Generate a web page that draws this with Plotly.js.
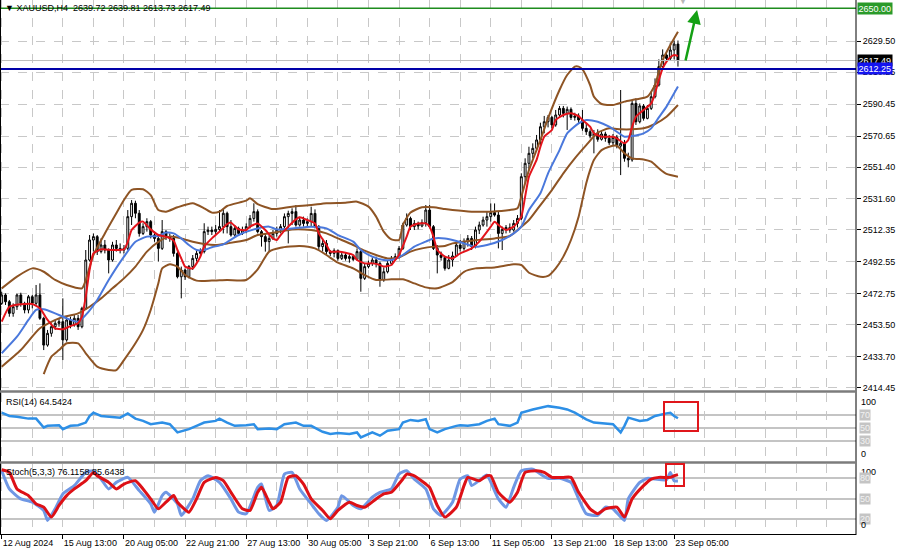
<!DOCTYPE html>
<html><head><meta charset="utf-8">
<script src="https://cdn.plot.ly/plotly-3.0.1.min.js"></script>
<style>html,body{margin:0;padding:0;background:#fff}#chart{width:900px;height:554px}</style>
</head><body><div id="chart"></div>
<script>
// ---------- DATA ----------
const headerText = "XAUUSD,H4  2639.72 2639.81 2613.73 2617.49";
const rsiLabel = "RSI(14) 64.5424";
const stochLabel = "Stoch(5,3,3) 76.1158 85.6438";
const xTickVals = [0,16,32,48,64,80,96,112,128,144,160,176];
const xTickText = ["12 Aug 2024","15 Aug 13:00","20 Aug 05:00","22 Aug 21:00","27 Aug 13:00","30 Aug 05:00","3 Sep 21:00","6 Sep 13:00","11 Sep 05:00","13 Sep 21:00","18 Sep 13:00","23 Sep 05:00"];
const priceTicks = [2414.45,2433.70,2453.50,2472.75,2492.55,2512.35,2531.60,2551.40,2570.65,2590.45,2610.25,2629.50];
const greenLevel = 2650.00;
const blueLevel = 2612.25;
const bidLevel = 2617.49;

const openP = [
2466.8,2472.0,2467.8,2460.6,2464.7,2472.0,2466.8,2462.7,2470.9,2466.8,
2472.0,2457.5,2440.9,2448.2,2452.3,2454.4,2455.4,2444.1,2456.5,2453.4,
2457.5,2452.3,2463.7,2493.7,2506.1,2508.2,2498.9,2503.0,2499.9,2493.7,
2503.0,2500.9,2499.9,2500.9,2520.6,2528.9,2522.7,2510.2,2514.4,2517.5,
2509.2,2507.1,2500.9,2511.3,2508.2,2507.1,2497.8,2483.3,2487.5,2483.3,
2489.6,2494.7,2497.8,2498.9,2511.3,2512.3,2511.3,2512.7,2514.4,2522.7,
2514.4,2509.2,2513.3,2510.2,2512.3,2514.4,2519.5,2523.7,2511.3,2508.2,
2505.1,2507.1,2510.2,2512.3,2514.4,2520.6,2522.6,2523.7,2515.4,2518.5,
2516.4,2517.5,2522.6,2514.4,2502.0,2504.0,2498.9,2497.8,2499.5,2494.7,
2496.8,2494.7,2495.8,2494.1,2498.9,2482.3,2489.6,2491.6,2493.7,2491.6,
2481.3,2486.4,2491.6,2494.7,2495.8,2500.9,2515.4,2519.5,2514.4,2516.4,
2514.8,2516.8,2524.7,2514.4,2500.9,2496.8,2495.3,2488.5,2493.7,2496.2,
2503.0,2500.9,2505.1,2507.1,2502.0,2512.3,2515.4,2518.5,2520.6,2523.1,
2521.6,2510.2,2512.7,2513.9,2512.3,2516.4,2519.5,2545.4,2553.7,2559.9,
2563.0,2568.2,2576.4,2579.5,2582.2,2577.5,2583.7,2587.8,2584.7,2587.2,
2582.2,2583.1,2580.6,2575.4,2573.3,2570.6,2572.3,2568.6,2571.9,2569.2,
2566.5,2569.8,2564.4,2566.1,2556.8,2555.8,2590.9,2579.5,2589.3,2581.6,
2587.8,2595.0,2602.3,2613.7,2620.9,2618.8,2624.0,2627.7];
const highP = [
2474.0,2473.0,2468.9,2466.8,2473.0,2473.4,2467.8,2472.0,2472.0,2478.2,
2479.2,2458.5,2450.3,2454.4,2456.5,2457.5,2469.9,2458.5,2458.5,2459.6,
2459.6,2464.7,2499.9,2509.2,2510.2,2509.2,2507.1,2506.1,2500.9,2505.0,
2506.1,2504.0,2503.0,2524.7,2530.9,2530.5,2524.7,2516.5,2519.6,2518.5,
2511.3,2509.2,2518.5,2512.3,2510.2,2509.2,2498.9,2489.6,2488.5,2490.6,
2496.8,2499.9,2500.9,2516.5,2514.4,2514.4,2515.4,2524.7,2525.8,2523.7,
2518.5,2515.4,2514.4,2514.4,2516.4,2521.6,2528.9,2525.1,2512.3,2510.2,
2509.2,2512.3,2514.4,2516.0,2522.6,2524.3,2525.8,2527.8,2520.6,2520.6,
2519.5,2526.8,2525.1,2515.4,2507.1,2506.1,2499.9,2500.9,2500.3,2498.9,
2498.2,2497.4,2496.6,2500.9,2499.9,2491.6,2493.3,2495.3,2495.8,2492.7,
2489.1,2493.7,2496.2,2497.8,2502.4,2516.8,2522.6,2520.6,2518.5,2517.5,
2518.9,2527.8,2527.8,2515.4,2503.0,2498.9,2496.2,2496.8,2498.9,2504.4,
2506.1,2507.1,2509.2,2508.6,2514.4,2517.5,2520.6,2523.7,2528.8,2528.8,
2523.7,2514.4,2515.4,2516.4,2518.5,2521.6,2547.5,2556.8,2564.0,2566.1,
2571.3,2578.9,2583.1,2583.7,2583.1,2586.8,2589.3,2589.3,2588.9,2588.4,
2585.1,2584.7,2586.8,2578.5,2574.8,2574.4,2574.8,2573.9,2573.3,2571.3,
2571.9,2571.3,2599.2,2568.2,2560.3,2593.0,2594.0,2590.9,2590.5,2589.9,
2598.2,2606.4,2618.2,2624.4,2623.0,2628.6,2629.8,2629.9];
const lowP = [
2465.8,2465.8,2458.5,2458.5,2462.7,2464.7,2460.6,2460.6,2463.7,2465.8,
2456.5,2437.8,2439.9,2446.1,2450.3,2452.3,2431.6,2443.0,2451.3,2452.3,
2450.3,2451.3,2462.7,2492.7,2498.9,2496.8,2497.8,2497.8,2485.4,2492.7,
2498.9,2497.8,2497.8,2499.9,2515.4,2519.6,2508.2,2509.2,2511.3,2507.1,
2505.0,2492.7,2499.9,2506.1,2505.0,2495.8,2482.3,2469.9,2481.3,2482.3,
2487.5,2492.7,2495.8,2497.8,2509.2,2509.2,2509.8,2511.3,2510.2,2510.2,
2508.2,2508.2,2508.6,2509.2,2510.2,2513.3,2517.5,2510.2,2502.0,2498.9,
2498.9,2506.1,2508.2,2510.2,2513.3,2504.0,2515.4,2514.4,2514.4,2514.4,
2514.4,2514.4,2513.3,2499.9,2498.9,2497.4,2496.2,2495.3,2493.3,2493.7,
2493.3,2492.0,2492.9,2493.3,2474.0,2481.3,2488.5,2490.0,2489.1,2477.1,
2480.2,2485.4,2490.6,2493.7,2494.7,2499.9,2514.4,2512.3,2512.3,2512.7,
2514.0,2514.4,2513.3,2499.9,2485.4,2493.3,2487.1,2487.9,2489.6,2495.8,
2498.9,2499.5,2502.0,2499.9,2500.9,2509.8,2514.4,2514.4,2517.5,2520.6,
2500.9,2499.9,2510.2,2510.6,2511.3,2513.9,2518.5,2541.3,2549.5,2556.8,
2560.9,2565.1,2572.3,2576.0,2575.4,2576.4,2582.2,2582.2,2574.4,2580.6,
2580.2,2578.5,2573.9,2571.3,2569.2,2559.9,2567.1,2567.8,2567.1,2565.1,
2565.1,2563.0,2546.4,2554.7,2551.2,2554.7,2577.5,2578.5,2580.2,2581.0,
2586.8,2594.0,2601.3,2612.6,2616.8,2617.4,2618.2,2613.73];
const closeP = [
2472.0,2467.8,2460.6,2464.7,2472.0,2466.8,2462.7,2470.9,2466.8,2472.0,
2457.5,2440.9,2448.2,2452.3,2454.4,2455.4,2444.1,2456.5,2453.4,2457.5,
2452.3,2463.7,2493.7,2506.1,2508.2,2498.9,2503.0,2499.9,2493.7,2503.0,
2500.9,2499.9,2500.9,2520.6,2528.9,2522.7,2510.2,2514.4,2517.5,2509.2,
2507.1,2500.9,2511.3,2508.2,2507.1,2497.8,2483.3,2487.5,2483.3,2489.6,
2494.7,2497.8,2498.9,2511.3,2512.3,2511.3,2512.7,2514.4,2522.7,2514.4,
2509.2,2513.3,2510.2,2512.3,2514.4,2519.5,2523.7,2511.3,2508.2,2505.1,
2507.1,2510.2,2512.3,2514.4,2520.6,2522.6,2523.7,2515.4,2518.5,2516.4,
2517.5,2522.6,2514.4,2502.0,2504.0,2498.9,2497.8,2499.5,2494.7,2496.8,
2494.7,2495.8,2494.1,2498.9,2482.3,2489.6,2491.6,2493.7,2491.6,2481.3,
2486.4,2491.6,2494.7,2495.8,2500.9,2515.4,2519.5,2514.4,2516.4,2514.8,
2516.8,2524.7,2514.4,2500.9,2496.8,2495.3,2488.5,2493.7,2496.2,2503.0,
2500.9,2505.1,2507.1,2502.0,2512.3,2515.4,2518.5,2520.6,2523.1,2521.6,
2510.2,2512.7,2513.9,2512.3,2516.4,2519.5,2545.4,2553.7,2559.9,2563.0,
2568.2,2576.4,2579.5,2582.2,2577.5,2583.7,2587.8,2584.7,2587.2,2582.2,
2583.1,2580.6,2575.4,2573.3,2570.6,2572.3,2568.6,2571.9,2569.2,2566.5,
2569.8,2564.4,2566.1,2556.8,2555.8,2590.9,2579.5,2589.3,2581.6,2587.8,
2595.0,2602.3,2613.7,2620.9,2618.8,2624.0,2627.7,2617.49];

// fast MA (red)
const maFastIdx = [0,2,5,8,10,12,14,16,18,20,21,22,23,24,26,29,32,33,34,36,37,39,41,43,45,46,47,48,50,51,52,53,55,57,59,
60,62,64,65,67,69,71,72,73,75,77,78,80,82,83,85,86,88,90,92,93,95,97,99,100,102,103,104,106,107,109,111,112,113,114,116,118,
120,123,125,128,129,130,132,134,136,137,138,140,141,142,144,145,147,149,151,152,154,155,157,158,160,161,163,164,165,166,168,170,171,172,173,174,175,176,177];
const maFast = [2455.4,2464.7,2466.2,2466.4,2463.7,2456.5,2451.3,2450.7,2452.7,2454.4,2458.5,2470.9,2487.5,2497.8,2500.3,2499.9,2500.3,2505.0,2512.3,2516.9,2517.5,2512.7,2509.2,2508.2,2505.7,2499.9,2494.7,2489.6,2488.5,2491.6,2495.8,2502.0,2507.1,2511.3,2516.0,
2516.9,2512.7,2512.3,2514.4,2516.4,2512.3,2507.1,2506.1,2509.2,2514.4,2518.9,2520.2,2518.5,2516.4,2510.2,2503.0,2498.9,2498.9,2498.2,2496.8,2493.7,2491.6,2491.6,2490.6,2489.6,2490.6,2493.7,2496.8,2508.2,2514.4,2516.4,2516.4,2514.4,2508.2,2499.9,2495.8,2494.7,
2497.8,2500.9,2505.1,2514.4,2517.5,2515.4,2512.3,2514.4,2520.6,2533.0,2545.4,2555.8,2564.0,2570.2,2574.4,2580.6,2583.7,2584.7,2583.0,2580.6,2576.4,2572.3,2570.2,2570.2,2570.2,2569.2,2566.1,2568.2,2576.4,2582.6,2586.8,2590.9,2597.1,2605.4,2612.6,2616.8,2619.5,2620.9,2620.3];

// slow MA (blue)
const maSlowIdx = [0,4,7,9,11,14,17,20,22,25,28,32,35,38,41,43,45,47,49,51,53,55,58,62,67,70,72,76,81,85,88,92,94,97,100,102,105,108,111,113,116,119,121,124,127,131,134,136,138,141,143,146,148,151,153,156,159,161,163,165,168,170,172,174,175,177];
const maSlow = [2435.8,2446.1,2456.5,2462.7,2463.1,2460.6,2457.5,2455.4,2459.6,2468.9,2481.3,2495.8,2505.0,2508.2,2508.6,2510.7,2510.2,2507.1,2503.0,2499.9,2499.9,2501.6,2503.4,2509.2,2513.3,2514.4,2512.7,2513.3,2514.4,2513.3,2509.2,2505.1,2499.9,2495.8,2493.7,2493.7,2496.8,2502.0,2505.1,2507.1,2507.1,2505.5,2504.0,2501.9,2503.0,2506.1,2510.2,2514.4,2524.7,2535.1,2547.5,2561.9,2572.3,2578.5,2580.6,2579.5,2576.4,2573.3,2570.2,2570.6,2572.3,2575.4,2582.2,2588.9,2593.0,2601.3];

// Bollinger bands (brown)
const bbMidIdx = [0,5,10,15,20,23,26,29,32,35,38,41,44,47,50,53,56,59,64,67,71,76,81,85,88,92,95,98,101,104,107,110,113,116,118,123,129,133,135,138,141,144,147,150,153,156,159,162,165,168,171,174,177];
const bbMid = [2427.5,2437.8,2451.3,2457.5,2460.6,2464.7,2469.9,2476.1,2482.3,2489.6,2498.9,2505.0,2508.2,2507.1,2505.0,2503.6,2503.0,2504.0,2506.1,2509.2,2510.6,2512.7,2512.3,2510.2,2507.1,2503.0,2499.5,2496.8,2494.7,2495.3,2498.9,2500.9,2502.0,2502.4,2504.0,2505.7,2507.1,2508.6,2512.3,2518.5,2527.8,2537.1,2547.5,2556.8,2565.0,2572.7,2575.4,2574.8,2574.8,2575.4,2578.1,2582.6,2589.9];
const bbUpIdx = [0,4,8,11,14,17,21,22,24,27,30,32,34,37,39,41,43,46,50,53,55,57,59,64,65,67,71,76,81,85,90,93,96,98,100,102,104,105,107,110,113,116,118,123,128,133,135,136,138,141,143,146,148,150,151,152,154,155,157,160,163,166,169,171,172,173,175,177];
const bbUp = [2476.1,2483.4,2488.5,2486.4,2481.3,2478.2,2476.1,2481.3,2496.8,2510.2,2522.7,2530.9,2537.2,2537.6,2534.0,2524.7,2523.7,2526.4,2528.9,2525.8,2523.1,2523.7,2527.2,2530.5,2532.0,2528.4,2525.3,2526.8,2527.8,2528.9,2529.3,2529.9,2526.8,2520.6,2511.3,2506.5,2506.1,2515.4,2523.1,2526.4,2526.4,2525.3,2524.7,2523.7,2523.7,2524.7,2525.8,2533.0,2549.5,2568.2,2581.6,2599.2,2608.5,2613.7,2613.7,2612.0,2602.3,2595.1,2590.5,2589.9,2592.0,2593.4,2595.1,2602.3,2610.6,2617.8,2627.1,2635.4];
const bbLowIdx = [11,13,15,17,20,22,25,28,30,32,35,37,39,41,42,44,46,48,51,55,59,64,67,70,73,78,82,85,88,92,95,98,102,105,108,111,114,118,121,124,129,134,136,138,141,143,145,147,149,151,152,153,154,155,157,159,161,163,165,168,170,172,174,177];
const bbLow = [2422.9,2433.7,2437.8,2442.0,2442.0,2435.8,2427.5,2425.4,2425.4,2431.6,2442.0,2450.3,2462.7,2479.2,2488.5,2491.0,2489.6,2484.4,2480.9,2480.9,2481.3,2481.3,2487.9,2498.9,2501.3,2502.4,2500.9,2496.8,2492.0,2488.5,2484.4,2481.3,2481.7,2481.7,2479.2,2476.7,2476.1,2480.0,2486.4,2488.5,2489.1,2491.0,2490.6,2485.8,2483.3,2483.8,2488.5,2495.8,2506.1,2520.6,2531.0,2541.3,2549.5,2555.8,2561.9,2564.0,2564.6,2559.9,2556.8,2556.1,2554.7,2550.6,2547.1,2545.4];

// RSI(14)
const rsiIdx = [0,2,4,7,9,11,12,15,16,18,20,22,23,24,26,29,31,33,35,37,39,42,44,46,49,51,53,56,57,59,61,64,66,67,70,72,74,77,79,81,84,86,88,91,93,94,97,99,101,104,105,107,109,111,112,114,116,119,120,122,125,127,129,130,133,135,136,139,141,143,146,148,150,153,155,157,160,162,163,164,167,169,171,174,175,176,177];
const rsiVal = [73,68,67,64,64,50.5,53,54,48,53,54,58,68,73,68,67,65.5,72,64,60.5,55.5,58,55.5,43,48,53,58,60.5,64,58,53,54,55.5,48,49,48,55.5,58,53,53,44,40.5,42,40.5,43,35.5,43,38,45.5,48,58,62,60.5,63,48,43,48,53,54,53,55.5,60.5,64,55.5,53,58,73,78,80.5,83,80.5,78,73,63,58,57,55.5,43,53,65.5,60.5,62,68,72,73,68,64.5];

// Stochastic(5,3,3) main %K (blue) and signal %D (red)
const stochKIdx = [0,2,5,8,11,12,14,16,19,22,24,26,28,30,33,36,39,40,42,43,46,47,50,52,54,57,60,62,64,67,68,70,72,74,76,78,81,83,85,88,89,92,94,97,99,102,104,106,108,111,113,115,118,120,122,123,126,127,130,132,134,136,139,141,143,146,149,151,153,156,158,160,163,164,167,169,171,174,175,176,177];
const stochK = [91.3,64.3,49.5,44.6,32.3,17.5,34.7,56.9,69.2,88.9,91.3,79.0,64.3,74.1,81.5,61.8,42.1,29.8,54.4,59.3,42.1,24.9,49.5,76.6,83.9,74.1,49.5,29.8,27.4,66.7,71.6,32.3,39.7,86.4,88.9,64.3,42.1,27.4,17.5,37.2,54.4,39.7,34.7,52.0,59.3,64.3,86.4,91.3,79.0,64.3,34.7,24.9,44.6,79.0,83.9,69.2,81.5,84.9,49.5,37.2,66.7,91.3,93.8,86.4,80.0,80.0,74.1,49.5,27.4,24.9,37.2,34.7,17.5,49.5,74.1,80.0,79.0,78.0,88.9,76.6,76.1];
const stochDIdx = [0,2,4,7,9,11,13,15,17,19,22,24,25,28,30,32,35,37,39,41,43,45,46,49,51,53,56,58,60,63,65,67,68,70,71,73,75,77,79,81,84,86,88,91,93,95,98,100,102,105,106,108,111,112,114,116,119,121,122,125,127,128,130,133,135,137,140,142,144,147,149,151,154,156,158,161,163,165,168,170,172,175,176,177];
const stochD = [92.8,88.9,64.3,54.4,42.1,37.2,22.4,39.7,54.4,64.3,76.6,88.9,83.9,74.1,64.3,71.6,76.6,64.3,49.5,34.7,44.6,54.4,44.6,29.8,49.5,74.1,81.5,76.6,59.3,34.7,32.3,59.3,66.7,44.6,34.7,44.6,81.5,83.9,71.6,49.5,32.3,20.0,32.3,44.6,39.7,37.2,49.5,56.9,59.3,79.0,86.4,83.9,71.6,66.7,39.7,22.4,37.2,69.2,81.5,76.6,83.9,83.9,59.3,44.6,59.3,88.9,91.3,88.9,81.5,81.5,81.5,59.3,34.7,27.4,34.7,37.2,22.4,49.5,69.2,79.0,81.5,81.5,83.9,85.6];

// ---------- CHART ----------
const W = 900, H = 554;
const px = v => v / W;
const py = v => 1 - v / H;
const XR = 856 / W;
const barIdx = closeP.map((_, i) => i);
const FONT = 'Liberation Sans, Arial, sans-serif';

const traces = [
  {type:'candlestick', x:barIdx, open:openP, high:highP, low:lowP, close:closeP, xaxis:'x', yaxis:'y',
   increasing:{line:{color:'#000', width:1}, fillcolor:'#ffffff'},
   decreasing:{line:{color:'#000', width:1}, fillcolor:'#000000'},
   whiskerwidth:0, hoverinfo:'skip', showlegend:false},
  {type:'scatter', mode:'lines', x:bbUpIdx, y:bbUp, xaxis:'x', yaxis:'y', line:{color:'#8e5424', width:2, shape:'spline', smoothing:0.6}, hoverinfo:'skip'},
  {type:'scatter', mode:'lines', x:bbMidIdx, y:bbMid, xaxis:'x', yaxis:'y', line:{color:'#8e5424', width:2, shape:'spline', smoothing:0.6}, hoverinfo:'skip'},
  {type:'scatter', mode:'lines', x:bbLowIdx, y:bbLow, xaxis:'x', yaxis:'y', line:{color:'#8e5424', width:2, shape:'spline', smoothing:0.6}, hoverinfo:'skip'},
  {type:'scatter', mode:'lines', x:maSlowIdx, y:maSlow, xaxis:'x', yaxis:'y', line:{color:'#4a78dc', width:2, shape:'spline', smoothing:0.6}, hoverinfo:'skip'},
  {type:'scatter', mode:'lines', x:maFastIdx, y:maFast, xaxis:'x', yaxis:'y', line:{color:'#e3141b', width:2, shape:'spline', smoothing:0.5}, hoverinfo:'skip'},
  {type:'scatter', mode:'lines', x:rsiIdx, y:rsiVal, xaxis:'x', yaxis:'y2', line:{color:'#2d8fe6', width:2.5}, hoverinfo:'skip'},
  {type:'scatter', mode:'lines', x:stochKIdx, y:stochK, xaxis:'x', yaxis:'y3', line:{color:'#6f97e4', width:3, shape:'spline', smoothing:0.5}, hoverinfo:'skip'},
  {type:'scatter', mode:'lines', x:stochDIdx, y:stochD, xaxis:'x', yaxis:'y3', line:{color:'#dd1016', width:3, shape:'spline', smoothing:0.5}, hoverinfo:'skip'}
];

const gridC = '#c8c8c8';
const layout = {
  width: W, height: H, margin:{l:0, r:0, t:0, b:0},
  paper_bgcolor:'#ffffff', plot_bgcolor:'#ffffff', showlegend:false,
  font:{family:FONT, size:9, color:'#000'},
  xaxis:{domain:[0, XR], range:[-0.445, 223.6], anchor:'y3', type:'linear',
    tickmode:'array', tickvals:xTickVals, ticktext:xTickText, tickangle:0, automargin:false,
    ticks:'outside', ticklen:4, tickcolor:'#000', ticklabelposition:'outside right',
    tickfont:{family:FONT, size:9, color:'#000'},
    showline:true, linecolor:'#000', linewidth:1,
    showgrid:true, gridcolor:gridC, griddash:'dash', gridwidth:1,
    minor:{tick0:0, dtick:8, showgrid:true, gridcolor:gridC, griddash:'dash', gridwidth:1, ticks:''},
    rangeslider:{visible:false}, zeroline:false, fixedrange:true},
  yaxis:{domain:[py(391), 1], range:[2412.4, 2655.05], anchor:'x', side:'right',
    tickmode:'array', tickvals:priceTicks, ticktext:priceTicks.map(v => v.toFixed(2)),
    ticks:'outside', ticklen:4, tickcolor:'#000', tickfont:{family:FONT, size:9, color:'#000'},
    showgrid:true, gridcolor:gridC, griddash:'dash', gridwidth:1, zeroline:false, showline:false, fixedrange:true},
  yaxis2:{domain:[py(461), py(393)], range:[-0.5, 103], anchor:'x', side:'right',
    tickmode:'array', tickvals:[30,50,70], showticklabels:false, ticks:'',
    showgrid:true, gridcolor:'#c4c4c4', gridwidth:2, zeroline:false, fixedrange:true},
  yaxis3:{domain:[py(534), py(464)], range:[-2.7, 101.4], anchor:'x', side:'right',
    tickmode:'array', tickvals:[20,50,80], showticklabels:false, ticks:'',
    showgrid:true, gridcolor:'#c4c4c4', gridwidth:2, zeroline:false, fixedrange:true},
  shapes:[
    {type:'line', xref:'paper', x0:0, x1:XR, yref:'y', y0:bidLevel, y1:bidLevel, line:{color:'#bdbdbd', width:1}},
    {type:'line', xref:'paper', x0:0, x1:XR, yref:'y', y0:blueLevel, y1:blueLevel, line:{color:'#0000a8', width:2}},
    {type:'line', xref:'paper', x0:0, x1:XR, yref:'y', y0:greenLevel, y1:greenLevel, line:{color:'#1e8c1e', width:1.5}},
    {type:'line', xref:'paper', yref:'paper', x0:XR, x1:XR, y0:py(535), y1:1, line:{color:'#000', width:1}},
    {type:'line', xref:'paper', yref:'paper', x0:px(0.5), x1:px(0.5), y0:py(534), y1:1, line:{color:'#000', width:1}},
    {type:'line', xref:'paper', yref:'paper', x0:0, x1:XR, y0:py(391.5), y1:py(391.5), line:{color:'#7c7c7c', width:2.5}},
    {type:'line', xref:'paper', yref:'paper', x0:0, x1:XR, y0:py(462.5), y1:py(462.5), line:{color:'#7c7c7c', width:2.5}},
    {type:'rect', xref:'paper', yref:'paper', x0:px(664), x1:px(698), y0:py(431), y1:py(402), line:{color:'#e0161b', width:2}},
    {type:'rect', xref:'paper', yref:'paper', x0:px(666), x1:px(684), y0:py(486), y1:py(464), line:{color:'#e0161b', width:2}}
  ],
  annotations:[
    {xref:'paper', yref:'paper', x:px(3), y:py(1), xanchor:'left', yanchor:'top', showarrow:false,
     text:'\u25BC ' + headerText, font:{family:FONT, size:9, color:'#000'}},
    {xref:'paper', yref:'paper', x:px(4), y:py(395), xanchor:'left', yanchor:'top', showarrow:false,
     text:rsiLabel, font:{family:FONT, size:9, color:'#000'}},
    {xref:'paper', yref:'paper', x:px(4), y:py(465), xanchor:'left', yanchor:'top', showarrow:false,
     text:stochLabel, font:{family:FONT, size:9, color:'#000'}},
    {xref:'paper', x:px(857), xanchor:'left', yref:'y', y:greenLevel, showarrow:false, text:greenLevel.toFixed(2),
     bgcolor:'#2a9a2a', borderpad:0.5, font:{family:FONT, size:9, color:'#fff'}},
    {xref:'paper', x:px(857), xanchor:'left', yref:'y', y:bidLevel, showarrow:false, text:bidLevel.toFixed(2),
     bgcolor:'#000', borderpad:0.5, font:{family:FONT, size:9, color:'#fff'}},
    {xref:'paper', x:px(857), xanchor:'left', yref:'y', y:blueLevel, showarrow:false, text:blueLevel.toFixed(2),
     bgcolor:'#1414f0', borderpad:0.5, font:{family:FONT, size:9, color:'#fff'}},
    {xref:'paper', x:px(859), xanchor:'left', yref:'y2', y:100, yanchor:'top', showarrow:false, text:'100', font:{family:FONT, size:9, color:'#000'}},
    {xref:'paper', x:px(859), xanchor:'left', yref:'y2', y:70, showarrow:false, text:'70', bgcolor:'#c4c4c4', borderpad:0, font:{family:FONT, size:9, color:'#f2f2f2'}},
    {xref:'paper', x:px(859), xanchor:'left', yref:'y2', y:50, showarrow:false, text:'50', bgcolor:'#c4c4c4', borderpad:0, font:{family:FONT, size:9, color:'#f2f2f2'}},
    {xref:'paper', x:px(859), xanchor:'left', yref:'y2', y:30, showarrow:false, text:'30', bgcolor:'#c4c4c4', borderpad:0, font:{family:FONT, size:9, color:'#f2f2f2'}},
    {xref:'paper', x:px(859), xanchor:'left', yref:'y2', y:0, yanchor:'bottom', showarrow:false, text:'0', font:{family:FONT, size:9, color:'#000'}},
    {xref:'paper', x:px(859), xanchor:'left', yref:'y3', y:100, yanchor:'top', showarrow:false, text:'100', font:{family:FONT, size:9, color:'#000'}},
    {xref:'paper', x:px(859), xanchor:'left', yref:'y3', y:80, showarrow:false, text:'80', bgcolor:'#c4c4c4', borderpad:0, font:{family:FONT, size:9, color:'#f2f2f2'}},
    {xref:'paper', x:px(859), xanchor:'left', yref:'y3', y:50, showarrow:false, text:'50', bgcolor:'#c4c4c4', borderpad:0, font:{family:FONT, size:9, color:'#f2f2f2'}},
    {xref:'paper', x:px(859), xanchor:'left', yref:'y3', y:20, showarrow:false, text:'20', bgcolor:'#c4c4c4', borderpad:0, font:{family:FONT, size:9, color:'#f2f2f2'}},
    {xref:'paper', x:px(859), xanchor:'left', yref:'y3', y:0, yanchor:'bottom', showarrow:false, text:'0', font:{family:FONT, size:9, color:'#000'}},
    {xref:'x', yref:'y', x:182, y:2648.8, axref:'x', ayref:'y', ax:178.9, ay:2616.6, showarrow:true,
     arrowhead:2, arrowsize:1.1, arrowwidth:2.5, arrowcolor:'#14a014', text:''},
    {xref:'x', yref:'paper', x:178.4, y:1, yanchor:'middle', showarrow:false, text:'\u25BC', font:{size:10, color:'#b8b8b8'}}
  ]
};

Plotly.newPlot('chart', traces, layout, {staticPlot:true, displayModeBar:false});
</script>
</body></html>
